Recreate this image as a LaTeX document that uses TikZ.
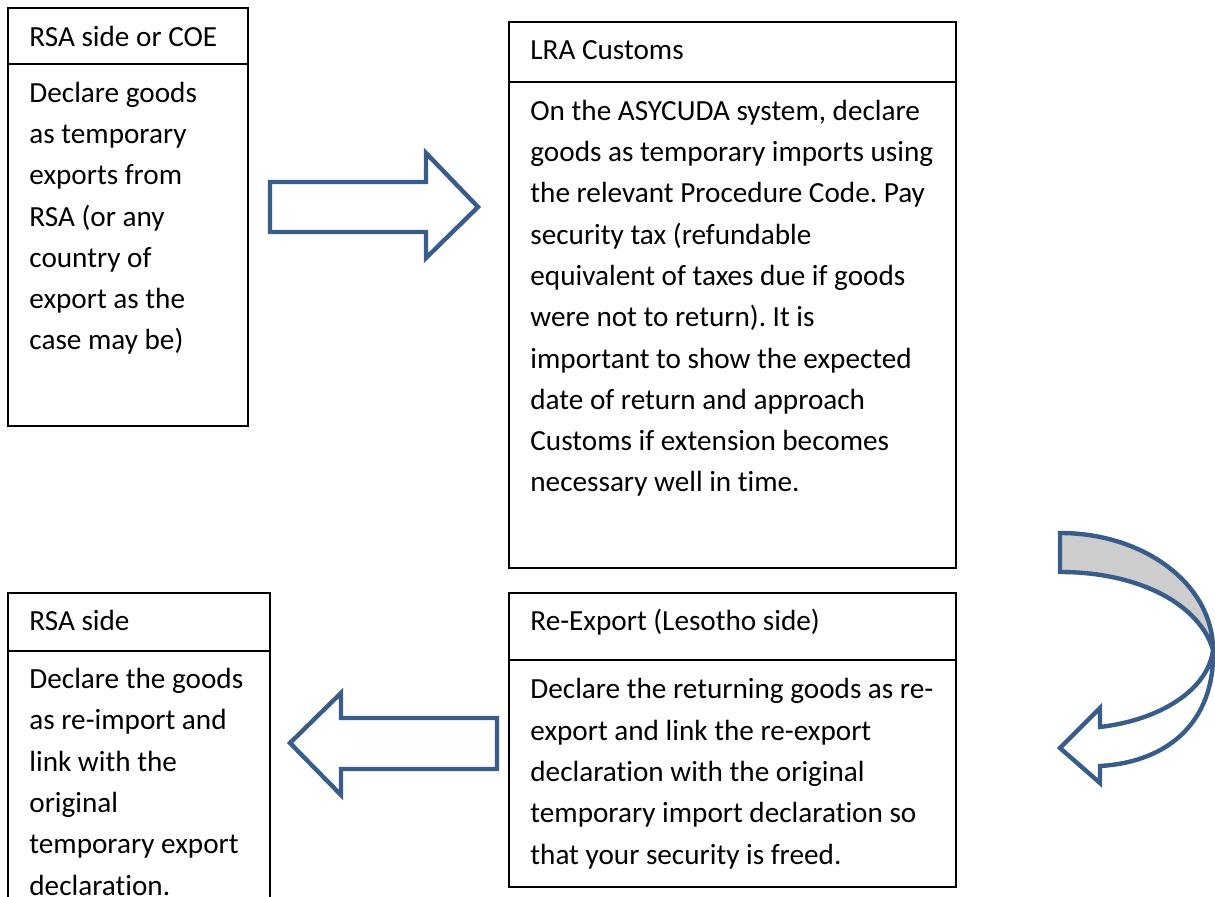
\documentclass[tikz,border=0pt]{standalone}
\usepackage{fontspec}
\setmainfont{Carlito}[Ligatures=CommonOff]
\frenchspacing
\definecolor{arrowblue}{RGB}{56,93,138}
\definecolor{ribbongray}{RGB}{205,205,205}
\tikzset{
  box/.style={draw=black, line width=0.75pt},
  blockarrow/.style={draw=arrowblue, line width=2.2pt, line join=miter, fill=white},
  head/.style={anchor=base west, inner sep=0pt, font=\fontsize{14.6}{20.65}\selectfont},
  body/.style={anchor=base west, inner sep=0pt, align=left, font=\fontsize{14.6}{20.65}\selectfont},
}

\begin{document}
\begin{tikzpicture}[x=0.5pt, y=-0.5pt]
  \useasboundingbox (0,0) rectangle (1215,897);
  \clip (0,0) rectangle (1215,897);

  % boxes
  \draw[box] (8,8) rectangle (248,426);
  \draw[box] (8,64) -- (248,64);
  \draw[box] (509,22) rectangle (956,568);
  \draw[box] (509,82) -- (956,82);
  \draw[box] (8,910) -- (8,593) -- (270,593) -- (270,910);
  \draw[box] (8,651) -- (270,651);
  \draw[box] (509,593) rectangle (956,887);
  \draw[box] (509,660) -- (956,660);

  % texts (base = last line)
  \node[head] (coeHead) at (29,47) {RSA side or COE};
  \node[body] (coeText) at (29,350) {Declare goods\\as temporary\\exports from\\RSA (or any\\country of\\export as the\\case may be)};

  \node[head] (lraHead) at (530,60) {LRA Customs};
  \node[body] (lraText) at (530,492) {On the ASYCUDA system, declare\\goods as temporary imports using\\the relevant Procedure Code. Pay\\security tax (refundable\\equivalent of taxes due if goods\\were not to return). It is\\important to show the expected\\date of return and approach\\Customs if extension becomes\\necessary well in time.};

  \node[head] (rsaHead) at (29,631) {RSA side};
  \node[body] (rsaText) at (29,895) {Declare the goods\\as re-import and\\link with the\\original\\temporary export\\declaration.};

  \node[head] (reHead) at (530,631) {Re-Export (Lesotho side)};
  \node[body] (reText) at (530,864) {Declare the returning goods as re-\\export and link the re-export\\declaration with the original\\temporary import declaration so\\that your security is freed.};

  % block arrows
  \draw[blockarrow] (270,182) -- (426,182) -- (426,153) -- (478,207) -- (426,258) -- (426,232) -- (270,232) -- cycle;
  \draw[blockarrow] (497,718) -- (341,718) -- (341,693) -- (290,743) -- (341,795) -- (341,769) -- (497,769) -- cycle;

  % curved arrow
  \draw[blockarrow] (1213,650) .. controls (1215,720) and (1170,762) .. (1100,766)
    -- (1100,783) -- (1060,748) -- (1100,708) -- (1100,727)
    .. controls (1160,720) and (1208,690) .. (1213,650) -- cycle;
  \draw[blockarrow, fill=ribbongray] (1060,533) .. controls (1145,533) and (1213,585) .. (1213,650)
    .. controls (1200,605) and (1140,572) .. (1060,572) -- cycle;
\end{tikzpicture}
\end{document}
